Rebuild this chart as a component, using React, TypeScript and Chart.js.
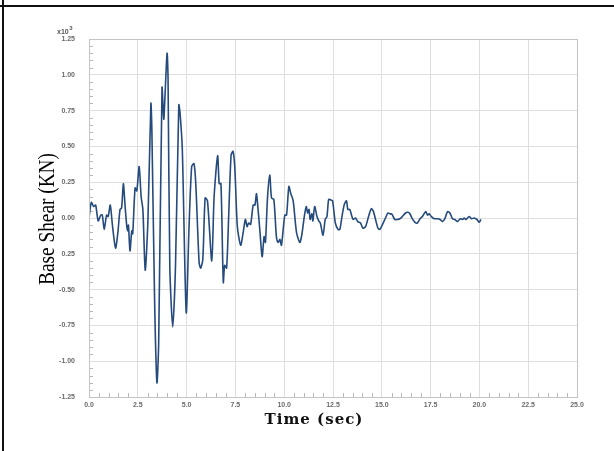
import React, { useEffect, useRef } from "react";
import { Chart, registerables } from "chart.js";

Chart.register(...registerables);

// Time (sec)
const timeSec = [
  0.0, 0.12, 0.24, 0.34, 0.47, 0.6, 0.68, 0.78, 0.9, 0.98, 1.09, 1.2, 1.36, 1.48, 1.59, 1.67, 1.76, 1.84,
  1.93, 1.98, 2.02, 2.1, 2.19, 2.24, 2.36, 2.45, 2.57, 2.67, 2.76, 2.88, 3.02, 3.17, 3.22, 3.36, 3.48,
  3.57, 3.74, 3.83, 3.88, 4.0, 4.05, 4.14, 4.29, 4.43, 4.6, 4.66, 4.78, 4.98, 5.12, 5.26, 5.38, 5.47,
  5.64, 5.72, 5.83, 5.95, 6.07, 6.29, 6.41, 6.59, 6.67, 6.76, 6.88, 6.95, 7.05, 7.16, 7.28, 7.38, 7.47,
  7.6, 7.77, 7.9, 8.01, 8.1, 8.18, 8.28, 8.41, 8.5, 8.58, 8.66, 8.75, 8.87, 8.97, 9.04, 9.14, 9.26, 9.35,
  9.47, 9.6, 9.69, 9.78, 9.86, 10.03, 10.12, 10.24, 10.34, 10.46, 10.63, 10.8, 10.9, 11.03, 11.13, 11.2,
  11.27, 11.33, 11.42, 11.47, 11.56, 11.68, 11.77, 11.85, 11.99, 12.1, 12.19, 12.28, 12.4, 12.48, 12.62,
  12.76, 12.85, 12.96, 13.08, 13.19, 13.26, 13.36, 13.45, 13.53, 13.65, 13.77, 13.91, 14.03, 14.17,
  14.34, 14.46, 14.56, 14.68, 14.8, 14.9, 15.02, 15.19, 15.31, 15.41, 15.53, 15.66, 15.8, 15.93, 16.05,
  16.22, 16.34, 16.44, 16.56, 16.7, 16.82, 16.96, 17.08, 17.25, 17.34, 17.42, 17.54, 17.68, 17.85,
  17.99, 18.11, 18.23, 18.37, 18.49, 18.62, 18.74, 18.88, 19.02, 19.14, 19.22, 19.31, 19.48, 19.6,
  19.73, 19.87, 19.99, 20.08,
];

// Base shear (kN, x10^3)
const baseShear = [
  0.0, 0.11, 0.08, 0.09, -0.02, 0.02, 0.02, -0.08, 0.02, 0.01, 0.09, -0.05, -0.21, -0.1, 0.06, 0.07, 0.24, 0.1,
  -0.05, -0.09, -0.05, -0.23, -0.09, -0.11, 0.21, 0.19, 0.36, 0.15, 0.06, -0.365, -0.01, 0.8, 0.62, -0.57, -1.15,
  -0.87, 0.91, 0.69, 0.81, 1.15, 0.97, -0.34, -0.76, -0.34, 0.79, 0.74, 0.48, -0.66, -0.08, 0.36, 0.38, 0.24,
  -0.31, -0.35, -0.29, 0.14, 0.12, -0.3, 0.15, 0.435, 0.24, 0.24, -0.45, -0.33, -0.35, 0.03, 0.44, 0.465, 0.35,
  -0.06, -0.19, -0.1, -0.01, -0.06, -0.035, -0.045, 0.09, 0.09, 0.17, 0.06, -0.08, -0.27, -0.13, -0.17, 0.13, 0.3, 0.14,
  0.13, -0.13, -0.17, -0.15, -0.19, 0.02, 0.02, 0.22, 0.17, 0.12, -0.1, -0.17, -0.12, 0.01, 0.08, 0.035,
  0.06, -0.01, 0.03, -0.02, 0.08, 0.01, -0.02, -0.035, -0.12, -0.01, 0.01, 0.13, 0.125, 0.12, -0.035,
  -0.08, -0.08, 0.01, 0.095, 0.12, 0.06, 0.06, 0.02, -0.01, 0.0, -0.025, -0.035, -0.07, -0.06,
  0.02, 0.065, 0.05, -0.01, -0.07, -0.08, -0.05, 0.0, 0.035, 0.03, 0.025, -0.01, -0.01, -0.005, 0.01,
  0.035, 0.04, 0.03, -0.005, -0.03, -0.035, -0.005, 0.01, 0.045, 0.02, 0.03, 0.01, -0.005, -0.005,
  -0.01, -0.025, -0.005, 0.045, 0.035, -0.005, -0.01, -0.025, -0.005, -0.01, 0.0, -0.01, 0.01, -0.005,
  0.0, -0.01, -0.03, -0.01,
];

// Tick labels as printed (bottom to top / left to right)
const yTickLabels = ["-1.25", "-1.00", "-0.75", "-0.50", "0.25", "0.00", "0.25", "0.50", "0.75", "1.00", "1.25"];
const xTickLabels = ["0.0", "2.5", "5.0", "7.5", "10.0", "12.5", "15.0", "17.5", "20.0", "22.5", "25.0"];

const yTitle = "Base Shear (KN)";
const xTitle = "Time (sec)";
const yUnit = "x10";
const yUnitExp = "3";

const decorPlugin = {
  id: "decor",
  beforeDatasetsDraw(chart: any) {
    const { ctx, chartArea: a, scales } = chart;
    ctx.save();
    ctx.strokeStyle = "#b8b8b8";
    ctx.lineWidth = 1;
    for (let k = -25; k <= 25; k++) {
      if (k % 5 === 0) continue;
      const y = Math.round(scales.y.getPixelForValue(k * 0.05)) + 0.5;
      ctx.beginPath();
      ctx.moveTo(a.left, y);
      ctx.lineTo(a.left + 4, y);
      ctx.stroke();
    }
    for (let k = 0; k <= 50; k++) {
      if (k % 5 === 0) continue;
      const x = Math.round(scales.x.getPixelForValue(k * 0.5)) + 0.5;
      ctx.beginPath();
      ctx.moveTo(x, a.bottom);
      ctx.lineTo(x, a.bottom - 4);
      ctx.stroke();
    }
    ctx.restore();
  },
  afterDraw(chart: any) {
    const { ctx, chartArea: a } = chart;
    ctx.save();
    ctx.strokeStyle = "#c4c4c4";
    ctx.lineWidth = 1;
    ctx.strokeRect(a.left + 0.5, a.top + 0.5, a.right - a.left, a.bottom - a.top);
    // unit label
    ctx.fillStyle = "#555";
    ctx.font = "bold 7px 'Liberation Sans'";
    ctx.textAlign = "left";
    ctx.textBaseline = "alphabetic";
    ctx.fillText(yUnit, 57, 34);
    const w = ctx.measureText(yUnit).width;
    ctx.font = "bold 6px 'Liberation Sans'";
    ctx.fillText(yUnitExp, 57 + w + 0.5, 30);
    // y title
    ctx.fillStyle = "#000";
    ctx.save();
    ctx.translate(48, 219);
    ctx.rotate(-Math.PI / 2);
    ctx.scale(0.92, 1.05);
    ctx.font = "21px 'Liberation Serif'";
    ctx.textAlign = "center";
    ctx.textBaseline = "middle";
    ctx.fillText(yTitle, 0, 0);
    ctx.restore();
    // x title
    ctx.font = "bold 15px 'DejaVu Serif'";
    (ctx as any).letterSpacing = "1px";
    ctx.textAlign = "center";
    ctx.textBaseline = "middle";
    ctx.fillStyle = "#111";
    ctx.fillText(xTitle, 314, 420);
    ctx.restore();
  },
};

export default function App() {
  const ref = useRef<HTMLCanvasElement | null>(null);

  useEffect(() => {
    if (!ref.current) return;
    const points = timeSec.map((t, i) => ({ x: t, y: baseShear[i] }));
    const chart = new Chart(ref.current, {
      type: "line",
      data: {
        datasets: [
          {
            data: points,
            borderColor: "#254a7c",
            borderWidth: 1.6,
            pointRadius: 0,
            tension: 0.25,
            fill: false,
          },
        ],
      },
      options: {
        responsive: false,
        animation: false,
        layout: { padding: { left: 0, top: 39, right: 37, bottom: 0 } },
        plugins: { legend: { display: false }, tooltip: { enabled: false } },
        scales: {
          x: {
            type: "linear",
            min: 0,
            max: 25,
            afterFit: (s: any) => {
              s.height = 54;
            },
            afterBuildTicks: (s: any) => {
              s.ticks = xTickLabels.map((_, i) => ({ value: i * 2.5 }));
            },
            ticks: {
              autoSkip: false,
              maxRotation: 0,
              padding: 4,
              color: "#6a6a6a",
              font: { family: "'Liberation Sans'", size: 7, weight: "bold" },
              callback: (v: any) => xTickLabels[Math.round(Number(v) / 2.5)] ?? "",
            },
            grid: { color: "#dedede", drawTicks: false },
            border: { display: false },
          },
          y: {
            type: "linear",
            min: -1.25,
            max: 1.25,
            afterFit: (s: any) => {
              s.width = 89;
            },
            afterBuildTicks: (s: any) => {
              s.ticks = yTickLabels.map((_, i) => ({ value: -1.25 + i * 0.25 }));
            },
            ticks: {
              autoSkip: false,
              padding: 14,
              color: "#6a6a6a",
              font: { family: "'Liberation Sans'", size: 7, weight: "bold" },
              callback: (v: any) => yTickLabels[Math.round((Number(v) + 1.25) / 0.25)] ?? "",
            },
            grid: { color: "#dedede", drawTicks: false },
            border: { display: false },
          },
        },
      },
      plugins: [decorPlugin],
    });
    return () => chart.destroy();
  }, []);

  return (
    <div
      style={{
        position: "fixed",
        left: 0,
        top: 0,
        width: 614,
        height: 451,
        background: "#fff",
        overflow: "hidden",
      }}
    >
      <canvas ref={ref} width={614} height={451} style={{ position: "absolute", left: 0, top: 0 }} />
      <div style={{ position: "absolute", left: 0, top: 5, width: 614, height: 2, background: "#111" }} />
      <div style={{ position: "absolute", left: 2, top: 0, width: 2, height: 451, background: "#111" }} />
    </div>
  );
}
